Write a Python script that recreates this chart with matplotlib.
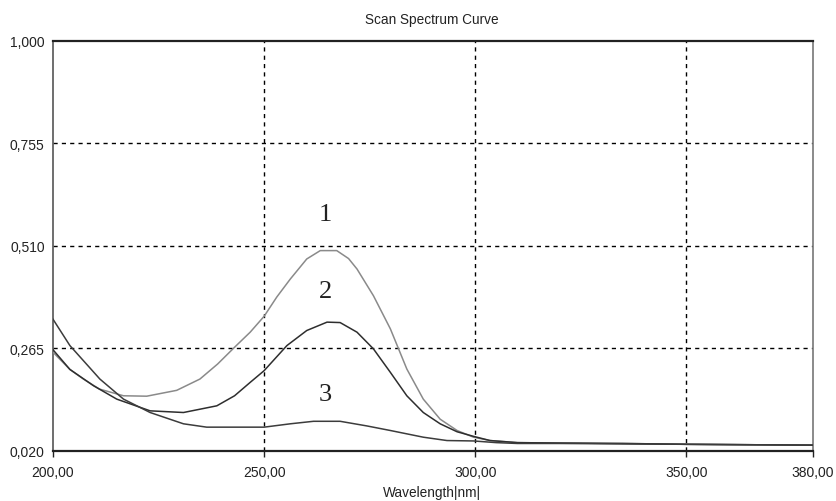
import matplotlib
matplotlib.use("Agg")
import matplotlib.pyplot as plt
from matplotlib.ticker import FixedLocator, FixedFormatter

# ---- data ----
wl1 = [200, 204, 207.2, 211, 216.7, 222.2, 229.3, 234.8, 239, 243, 246.7, 250, 253, 256.2, 260.1,
       263.3, 267.2, 270, 272, 275.9, 279.9, 283.8, 287.7, 291.7, 295.7, 299.6, 303.5, 310, 320,
       335, 350, 365, 380]
abs1 = [0.256, 0.215, 0.192, 0.168, 0.152, 0.151, 0.165, 0.192, 0.228, 0.268, 0.304, 0.342,
        0.388, 0.431, 0.479, 0.499, 0.499, 0.480, 0.455, 0.391, 0.312, 0.216, 0.144, 0.096,
        0.069, 0.053, 0.045, 0.040, 0.039, 0.038, 0.036, 0.035, 0.034]

wl2 = [200, 204, 209.6, 215.1, 223, 230.9, 238.8, 243, 246.7, 250, 255.4, 260.1, 264.9, 268, 272,
       275.9, 279.9, 283.8, 287.7, 291.7, 295.7, 299.6, 303.5, 310, 320, 335, 350, 365, 380]
abs2 = [0.262, 0.215, 0.176, 0.144, 0.116, 0.112, 0.128, 0.152, 0.184, 0.212, 0.272, 0.308,
        0.328, 0.327, 0.304, 0.264, 0.208, 0.152, 0.112, 0.085, 0.066, 0.055, 0.045, 0.040,
        0.039, 0.038, 0.036, 0.035, 0.034]

wl3 = [200, 204, 211.1, 216.7, 223, 230.9, 236.4, 244.3, 250, 256.2, 261.7, 268, 274.3, 279.9,
       287.7, 293.3, 299.6, 305, 310, 320, 335, 350, 365, 380]
abs3 = [0.335, 0.272, 0.192, 0.144, 0.112, 0.085, 0.077, 0.077, 0.077, 0.085, 0.091, 0.091,
        0.080, 0.069, 0.053, 0.045, 0.044, 0.040, 0.038, 0.038, 0.037, 0.036, 0.035, 0.034]

curve_labels = ["1", "2", "3"]
label_x = [264.5, 264.5, 264.5]
label_y = [0.586, 0.403, 0.156]

xticks = [200, 250, 300, 350, 380]
xticklabels = ["200,00", "250,00", "300,00", "350,00", "380,00"]
yticks = [0.020, 0.265, 0.510, 0.755, 1.000]
yticklabels = ["0,020", "0,265", "0,510", "0,755", "1,000"]

title = "Scan Spectrum Curve"
xlabel = "Wavelength|nm|"

# ---- figure ----
sans = ["Liberation Sans", "DejaVu Sans"]
serif = ["Liberation Serif", "DejaVu Serif"]

fig = plt.figure(figsize=(8.37, 5.02), dpi=100)
ax = fig.add_axes([53 / 837, 1 - 452 / 502, 760 / 837, 410 / 502])

# grid
for xv in xticks[1:-1]:
    ax.axvline(xv, color="black", lw=1.0, ls=(0, (3, 3)), zorder=1)
for yv in yticks[1:-1]:
    ax.axhline(yv, color="black", lw=1.0, ls=(0, (3, 3)), zorder=1)

ax.plot(wl1, abs1, color="#8a8a8a", lw=1.1, zorder=3)
ax.plot(wl2, abs2, color="#2e2e2e", lw=1.1, zorder=3)
ax.plot(wl3, abs3, color="#3c3c3c", lw=1.1, zorder=3)

for t, xx, yy in zip(curve_labels, label_x, label_y):
    ax.text(xx, yy, t, family=serif, fontsize=19, ha="center", va="center", color="#222222")

ax.set_xlim(200, 380)
ax.set_ylim(0.020, 1.000)

ax.xaxis.set_major_locator(FixedLocator(xticks))
ax.xaxis.set_major_formatter(FixedFormatter(xticklabels))
ax.yaxis.set_major_locator(FixedLocator(yticks))
ax.yaxis.set_major_formatter(FixedFormatter(yticklabels))

ax.tick_params(axis="x", direction="out", length=4, width=1, pad=6, labelsize=10, colors="#222222")
ax.tick_params(axis="y", length=0, pad=6, labelsize=10, colors="#222222")
for lab in ax.get_xticklabels() + ax.get_yticklabels():
    lab.set_family(sans)

ax.spines["top"].set_linewidth(1.6)
ax.spines["top"].set_color("#222222")
ax.spines["bottom"].set_linewidth(1.6)
ax.spines["bottom"].set_color("#222222")
ax.spines["left"].set_linewidth(1.2)
ax.spines["left"].set_color("#555555")
ax.spines["right"].set_linewidth(1.2)
ax.spines["right"].set_color("#777777")

fig.text(432 / 837, 1 - 20 / 502, title, family=sans, fontsize=9.8, ha="center", va="center",
         color="#222222")
fig.text(432 / 837, 1 - 493 / 502, xlabel, family=sans, fontsize=9.8, ha="center", va="center",
         color="#222222")

fig.savefig("out.png", dpi=100)
